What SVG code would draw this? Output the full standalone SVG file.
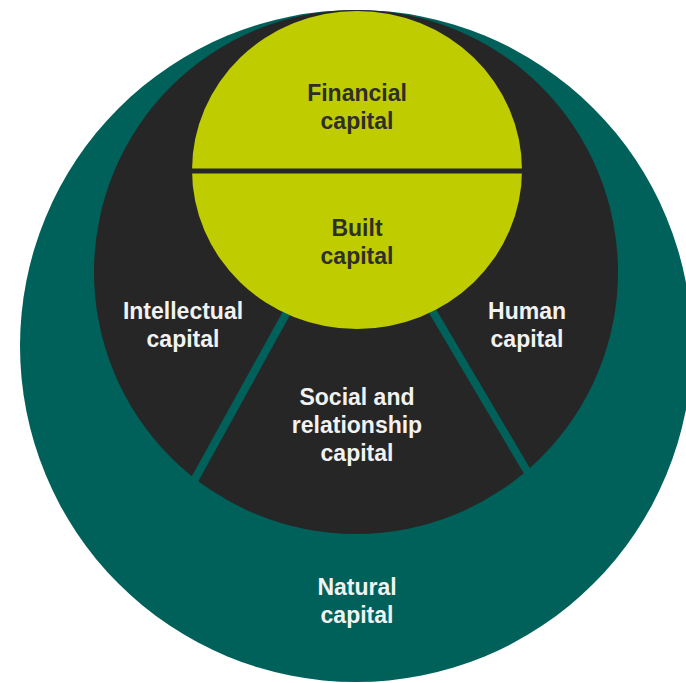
<svg xmlns="http://www.w3.org/2000/svg" width="686" height="683" viewBox="0 0 686 683">
<style>
.t{font-family:"Liberation Sans",Arial,sans-serif;font-weight:bold;font-size:23px;text-anchor:middle}
.w{fill:#f2f2f2}
.d{fill:#2e2e2a}
</style>
<rect width="686" height="683" fill="#ffffff"/>
<g id="natural">
<circle cx="356" cy="346" r="336" fill="#00605a"/>
<text class="t w" x="357" y="595">Natural</text>
<text class="t w" x="357" y="623">capital</text>
</g>
<g id="inner">
<circle cx="356" cy="272" r="262" fill="#262626"/>
</g>
<g id="connectors">
<line x1="360" y1="180" x2="185" y2="497" stroke="#00605a" stroke-width="8"/>
<line x1="355" y1="180" x2="540" y2="493" stroke="#00605a" stroke-width="8"/>
</g>
<g id="intellectual">
<text class="t w" x="183" y="319">Intellectual</text>
<text class="t w" x="183" y="347">capital</text>
</g>
<g id="human">
<text class="t w" x="527" y="319">Human</text>
<text class="t w" x="527" y="347">capital</text>
</g>
<g id="social">
<text class="t w" x="357" y="405">Social and</text>
<text class="t w" x="357" y="433">relationship</text>
<text class="t w" x="357" y="461">capital</text>
</g>
<g id="lime">
<ellipse cx="357" cy="170" rx="165" ry="159" fill="#bfcc00"/>
<line x1="190" y1="171" x2="524" y2="171" stroke="#262626" stroke-width="5"/>
</g>
<g id="financial">
<text class="t d" x="357" y="101">Financial</text>
<text class="t d" x="357" y="129">capital</text>
</g>
<g id="built">
<text class="t d" x="357" y="236">Built</text>
<text class="t d" x="357" y="264">capital</text>
</g>
</svg>
